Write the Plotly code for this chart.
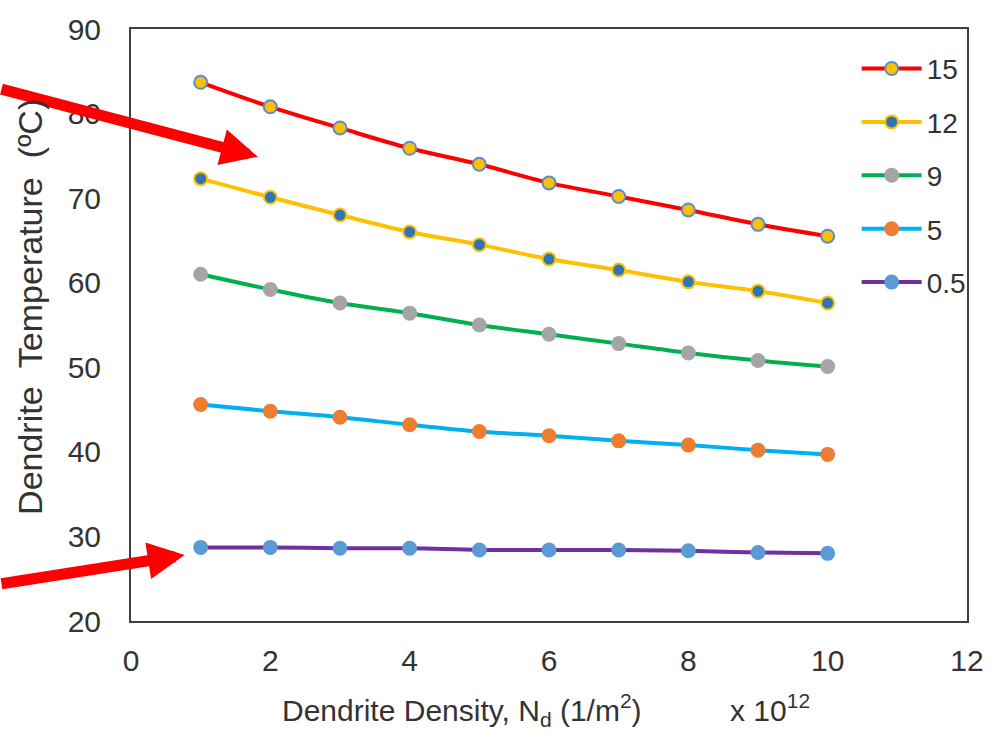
import plotly.graph_objects as go

# Dendrite density (x 10^12 per m^2)
density = [1, 2, 3, 4, 5, 6, 7, 8, 9, 10]

# Dendrite temperature (deg C) for each series
t_15 = [83.7, 80.8, 78.3, 75.9, 74.0, 71.8, 70.2, 68.6, 66.9, 65.5]
t_12 = [72.3, 70.1, 68.0, 66.0, 64.5, 62.8, 61.5, 60.1, 59.0, 57.6]
t_9 = [61.0, 59.2, 57.6, 56.4, 55.0, 53.9, 52.8, 51.7, 50.8, 50.1]
t_5 = [45.6, 44.8, 44.1, 43.2, 42.4, 41.9, 41.3, 40.8, 40.2, 39.7]
t_05 = [28.7, 28.7, 28.6, 28.6, 28.4, 28.4, 28.4, 28.3, 28.1, 28.0]

series_names = ["15", "12", "9", "5", "0.5"]
series_values = [t_15, t_12, t_9, t_5, t_05]
line_colors = ["#FF0000", "#FFC000", "#00B050", "#00B0F0", "#7030A0"]
marker_fill = ["#FFC000", "#2E75B6", "#A5A5A5", "#ED7D31", "#5B9BD5"]
marker_edge = ["#5B8BD0", "#FFC000", "#A5A5A5", "#ED7D31", "#5B9BD5"]

FONT = "Arial, Liberation Sans, sans-serif"
TXT = "#333333"

fig = go.Figure()
for i, (name, vals) in enumerate(zip(series_names, series_values)):
    fig.add_trace(go.Scatter(
        x=density, y=vals, name=name, mode="lines+markers",
        legendgroup=f"g{i}",
        line=dict(color=line_colors[i], width=4, shape="spline"),
        marker=dict(size=13, color=marker_fill[i],
                    line=dict(color=marker_edge[i], width=2)),
    ))

# Red pointer arrows
arrow_common = dict(showarrow=True, text="", arrowhead=2, arrowsize=0.67,
                    arrowwidth=11, arrowcolor="#FF0000", standoff=0,
                    xref="x", yref="y", axref="pixel", ayref="pixel")
fig.add_annotation(x=1.82, y=74.9, ax=-268, ay=-68, **arrow_common)
fig.add_annotation(x=0.77, y=27.8, ax=-195, ay=29, **arrow_common)

# Axis titles
fig.add_annotation(
    text="Dendrite Density, N<sub>d</sub> (1/m<sup>2</sup>)",
    xref="paper", yref="paper", x=0.178, y=-0.112, xanchor="left", yanchor="top",
    showarrow=False, font=dict(family=FONT, size=30, color=TXT))
fig.add_annotation(
    text="x 10<sup>12</sup>",
    xref="paper", yref="paper", x=0.714, y=-0.112, xanchor="left", yanchor="top",
    showarrow=False, font=dict(family=FONT, size=30, color=TXT))
fig.add_annotation(
    text="Dendrite  Temperature  (ºC)",
    xref="paper", yref="paper", x=-0.12, y=0.53, xanchor="center", yanchor="middle",
    textangle=-90, showarrow=False, font=dict(family=FONT, size=34, color=TXT))

fig.update_layout(
    width=996, height=734,
    margin=dict(l=131, r=27, t=28, b=113),
    paper_bgcolor="white", plot_bgcolor="white",
    font=dict(family=FONT, size=30, color=TXT),
    showlegend=True,
    legend=dict(x=0.868, y=0.975, xanchor="left", yanchor="top",
                bgcolor="rgba(0,0,0,0)", font=dict(family=FONT, size=28, color=TXT),
                itemwidth=60, tracegroupgap=14),
    xaxis=dict(range=[0, 12], tickvals=[0, 2, 4, 6, 8, 10, 12], showgrid=False,
               zeroline=False, showline=True, linecolor="#404040", linewidth=2,
               mirror=True, ticks="", ticklabelstandoff=12,
               tickfont=dict(family=FONT, size=30, color=TXT)),
    yaxis=dict(range=[20, 90], tickvals=[20, 30, 40, 50, 60, 70, 80, 90], showgrid=False,
               zeroline=False, showline=True, linecolor="#404040", linewidth=2,
               mirror=True, ticks="", ticklabelstandoff=22,
               tickfont=dict(family=FONT, size=30, color=TXT)),
)

fig.write_html("out.html")
